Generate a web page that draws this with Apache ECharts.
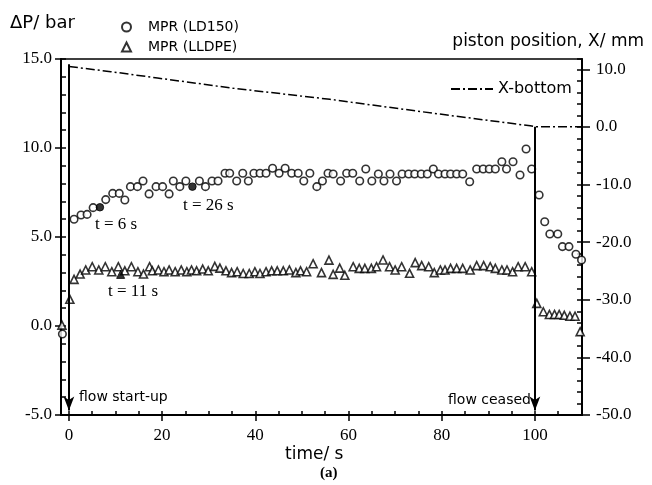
<!DOCTYPE html>
<html>
<head>
<meta charset="utf-8">
<script src="https://cdn.jsdelivr.net/npm/echarts@6/dist/echarts.min.js"></script>
<style>
  html, body { margin: 0; padding: 0; background: #fff; }
  #chart { width: 652px; height: 485px; }
</style>
</head>
<body>
<div id="chart"></div>
<script>
// time (s) / pressure drop (bar)
const ld150 = [
  [-1.4, -0.45], [1.1, 6.0], [2.6, 6.24], [3.9, 6.27], [5.2, 6.65], [7.9, 7.1], [9.4, 7.45],
  [10.8, 7.45], [12.0, 7.08], [13.2, 7.83], [14.7, 7.83], [15.9, 8.15], [17.2, 7.42], [18.7, 7.83],
  [20.1, 7.83], [21.5, 7.42], [22.4, 8.15], [23.8, 7.83], [25.1, 8.15], [28.0, 8.15], [29.3, 7.83],
  [30.7, 8.15], [32.0, 8.15], [33.5, 8.58], [34.5, 8.58], [36.0, 8.15], [37.3, 8.58], [38.5, 8.15],
  [39.7, 8.58], [41.0, 8.58], [42.3, 8.58], [43.7, 8.86], [45.1, 8.58], [46.4, 8.86], [47.8, 8.58],
  [49.2, 8.58], [50.4, 8.15], [51.7, 8.58], [53.2, 7.83], [54.4, 8.15], [55.6, 8.58], [56.7, 8.54],
  [58.3, 8.15], [59.6, 8.58], [60.9, 8.58], [62.4, 8.15], [63.7, 8.82], [65.0, 8.15], [66.4, 8.54],
  [67.6, 8.15], [68.9, 8.54], [70.3, 8.15], [71.5, 8.54], [72.9, 8.54], [74.2, 8.54], [75.6, 8.54],
  [76.9, 8.54], [78.2, 8.82], [79.3, 8.54], [80.7, 8.54], [81.9, 8.54], [83.2, 8.54], [84.5, 8.54],
  [86.0, 8.1], [87.5, 8.82], [88.9, 8.82], [90.2, 8.82], [91.5, 8.82], [92.9, 9.23], [93.9, 8.82],
  [95.3, 9.23], [96.8, 8.48], [98.1, 9.94], [99.3, 8.82], [100.9, 7.36], [102.1, 5.86], [103.2, 5.17],
  [104.9, 5.17], [105.9, 4.46], [107.3, 4.46], [108.8, 4.03], [110.0, 3.71]
];
const ld150Marked = [[6.65, 6.67], [26.5, 7.83]];

const lldpe = [
  [-1.5, 0.05], [0.2, 1.5], [1.1, 2.62], [2.4, 2.92], [3.6, 3.15], [5.0, 3.33], [6.4, 3.15],
  [7.8, 3.33], [9.2, 3.05], [10.6, 3.33], [12.0, 3.1], [13.4, 3.33], [14.8, 3.05], [16.0, 2.92],
  [17.3, 3.33], [17.9, 3.1], [19.2, 3.15], [20.4, 3.05], [21.5, 3.15], [22.8, 3.05], [24.1, 3.15],
  [25.3, 3.05], [26.3, 3.15], [27.4, 3.1], [28.7, 3.2], [29.9, 3.1], [31.3, 3.35], [32.4, 3.25],
  [33.7, 3.1], [34.9, 3.0], [36.1, 3.05], [37.4, 2.95], [38.7, 2.95], [39.9, 3.05], [41.0, 2.95],
  [42.3, 3.05], [43.5, 3.1], [44.7, 3.1], [46.0, 3.1], [47.3, 3.15], [48.7, 3.0], [49.7, 3.1],
  [51.0, 3.05], [52.4, 3.5], [54.2, 3.0], [55.8, 3.7], [56.7, 2.9], [58.1, 3.25], [59.2, 2.85],
  [61.0, 3.33], [62.3, 3.24], [63.5, 3.24], [64.9, 3.24], [66.0, 3.33], [67.4, 3.71], [68.8, 3.33],
  [70.0, 3.15], [71.4, 3.33], [73.1, 2.96], [74.3, 3.56], [75.7, 3.39], [77.2, 3.33], [78.4, 3.0],
  [79.7, 3.15], [80.7, 3.15], [81.9, 3.24], [83.2, 3.24], [84.5, 3.24], [86.1, 3.15], [87.5, 3.39],
  [89.0, 3.39], [90.4, 3.33], [91.5, 3.24], [92.9, 3.15], [94.0, 3.15], [95.2, 3.05], [96.4, 3.33],
  [97.9, 3.33], [99.3, 3.05], [100.4, 1.27], [101.8, 0.8], [103.1, 0.65], [104.2, 0.65],
  [105.2, 0.65], [106.3, 0.6], [107.5, 0.55], [108.6, 0.55], [109.7, -0.32]
];
const lldpeMarked = [[11.1, 2.9]];

// piston position X (mm) on the right axis
const xBottom = [[0, 10.5], [9, 9.6], [19, 8.5], [35, 6.75], [56, 4.8], [78, 2.4], [99, 0.2], [100, 0.05], [110, 0.05]];

// event arrows (left axis units)
const startArrow = [[0, 14.7], [0, -4.75]];
const ceaseArrow = [[100, 11.2], [100, -4.75]];

const xLabelTicks = [0, 20, 40, 60, 80, 100];
const xMinorTicks = [0, 5, 10, 15, 20, 25, 30, 35, 40, 45, 50, 55, 60, 65, 70, 75, 80, 85, 90, 95, 100, 105, 110];

const serif = '"Liberation Serif", "DejaVu Serif", serif';
const sans = '"DejaVu Sans", sans-serif';

const chart = echarts.init(document.getElementById('chart'));

const arrowLine = (pts) => ({
  silent: true,
  symbol: ['none', 'arrow'],
  symbolSize: [8, 14],
  label: { show: false },
  emphasis: { disabled: true },
  lineStyle: { color: '#000', width: 2, type: 'solid' },
  data: [[{ coord: pts[0] }, { coord: pts[1] }]]
});

chart.setOption({
  animation: false,
  backgroundColor: '#fff',
  grid: {
    left: 61, right: 70, top: 59, bottom: 70,
    show: true, borderColor: '#000', borderWidth: 1.5
  },
  legend: [
    {
      data: ['MPR (LD150)', 'MPR (LLDPE)'],
      orient: 'vertical',
      left: 116, top: 15,
      itemWidth: 9, itemHeight: 9, itemGap: 6,
      selectedMode: false,
      textStyle: { fontFamily: sans, fontSize: 14, color: '#000', lineHeight: 14, padding: [0, 0, 0, 12] }
    },
    {
      data: [{ name: 'X-bottom', itemStyle: { opacity: 0 } }],
      left: 445, top: 76,
      itemWidth: 42, itemHeight: 10,
      selectedMode: false,
      textStyle: { fontFamily: sans, fontSize: 16, color: '#000' }
    }
  ],
  xAxis: [
    {
      type: 'value', min: -1.7, max: 110.1,
      axisLine: { onZero: false, lineStyle: { color: '#000', width: 2 } },
      axisTick: { customValues: xLabelTicks, length: 6, lineStyle: { color: '#000', width: 1.5 } },
      axisLabel: {
        customValues: xLabelTicks, margin: 12,
        fontFamily: serif, fontSize: 17, color: '#000'
      },
      splitLine: { show: false }
    },
    {
      type: 'value', min: -1.7, max: 110.1, position: 'bottom',
      axisLine: { show: false, onZero: false },
      axisTick: { customValues: xMinorTicks, inside: true, length: 4, lineStyle: { color: '#000', width: 1.5 } },
      axisLabel: { show: false },
      splitLine: { show: false }
    }
  ],
  yAxis: [
    {
      type: 'value', min: -5, max: 15, interval: 5,
      axisLine: { show: true, onZero: false, lineStyle: { color: '#000', width: 2 } },
      axisTick: { show: true, length: 6, lineStyle: { color: '#000', width: 1.5 } },
      axisLabel: {
        margin: 9, fontFamily: serif, fontSize: 17, color: '#000',
        formatter: (v) => v.toFixed(1)
      },
      splitLine: { show: false }
    },
    {
      type: 'value', min: -50, max: 11.8, interval: 10, position: 'right',
      axisLine: { show: true, onZero: false, lineStyle: { color: '#000', width: 2 } },
      axisTick: { show: true, length: 8, lineStyle: { color: '#000', width: 1.5 } },
      axisLabel: {
        margin: 14, fontFamily: serif, fontSize: 17, color: '#000',
        showMaxLabel: false,
        formatter: (v) => v.toFixed(1)
      },
      splitLine: { show: false }
    },
    {
      type: 'value', min: -5, max: 15, interval: 1, position: 'left',
      axisLine: { show: false, onZero: false },
      axisTick: { show: true, inside: true, length: 5, lineStyle: { color: '#000', width: 1.5 } },
      axisLabel: { show: false },
      splitLine: { show: false }
    },
    {
      type: 'value', min: -50, max: 11.8, interval: 2, position: 'right',
      axisLine: { show: false, onZero: false },
      axisTick: { show: true, inside: true, length: 5, lineStyle: { color: '#000', width: 1.5 } },
      axisLabel: { show: false, showMaxLabel: false },
      splitLine: { show: false }
    }
  ],
  series: [
    {
      name: 'X-bottom',
      type: 'line',
      yAxisIndex: 1,
      data: xBottom,
      symbol: 'none',
      lineStyle: { color: '#000', width: 1.5, type: [9, 3, 2, 3] },
      itemStyle: { color: '#000' },
      z: 2
    },
    {
      name: 'MPR (LD150)',
      type: 'scatter',
      data: ld150,
      symbol: 'circle',
      symbolSize: 7.5,
      itemStyle: { color: '#fff', borderColor: '#000', borderWidth: 1.6 },
      markLine: arrowLine(startArrow),
      z: 3
    },
    {
      name: 'MPR (LLDPE)',
      type: 'scatter',
      data: lldpe,
      symbol: 'triangle',
      symbolSize: 8,
      itemStyle: { color: '#fff', borderColor: '#000', borderWidth: 1.6 },
      markLine: arrowLine(ceaseArrow),
      z: 3
    },
    {
      name: 'LD150 marked',
      type: 'scatter',
      data: ld150Marked,
      symbol: 'circle',
      symbolSize: 7.5,
      itemStyle: { color: '#000', borderColor: '#000', borderWidth: 1 },
      z: 4
    },
    {
      name: 'LLDPE marked',
      type: 'scatter',
      data: lldpeMarked,
      symbol: 'triangle',
      symbolSize: 8,
      itemStyle: { color: '#000', borderColor: '#000', borderWidth: 1 },
      z: 4
    }
  ],
  graphic: [
    { type: 'text', left: 10, top: 14, style: { text: 'ΔP/ bar', font: '18px ' + sans, fill: '#000' } },
    { type: 'text', right: 8, top: 33, style: { text: 'piston position, X/ mm', font: '17px ' + sans, fill: '#000' } },
    { type: 'text', left: 95, top: 216, style: { text: 't = 6 s', font: '17px ' + serif, fill: '#000' } },
    { type: 'text', left: 183, top: 197, style: { text: 't = 26 s', font: '17px ' + serif, fill: '#000' } },
    { type: 'text', left: 108, top: 283, style: { text: 't = 11 s', font: '17px ' + serif, fill: '#000' } },
    { type: 'text', left: 79, top: 390, style: { text: 'flow start-up', font: '14px ' + sans, fill: '#000' } },
    { type: 'text', left: 448, top: 393, style: { text: 'flow ceased', font: '14px ' + sans, fill: '#000' } },
    { type: 'text', left: 285, top: 446, style: { text: 'time/ s', font: '17px ' + sans, fill: '#000' } },
    { type: 'text', left: 320, top: 466, style: { text: '(a)', font: 'bold 15px ' + serif, fill: '#000' } }
  ]
});
</script>
</body>
</html>
